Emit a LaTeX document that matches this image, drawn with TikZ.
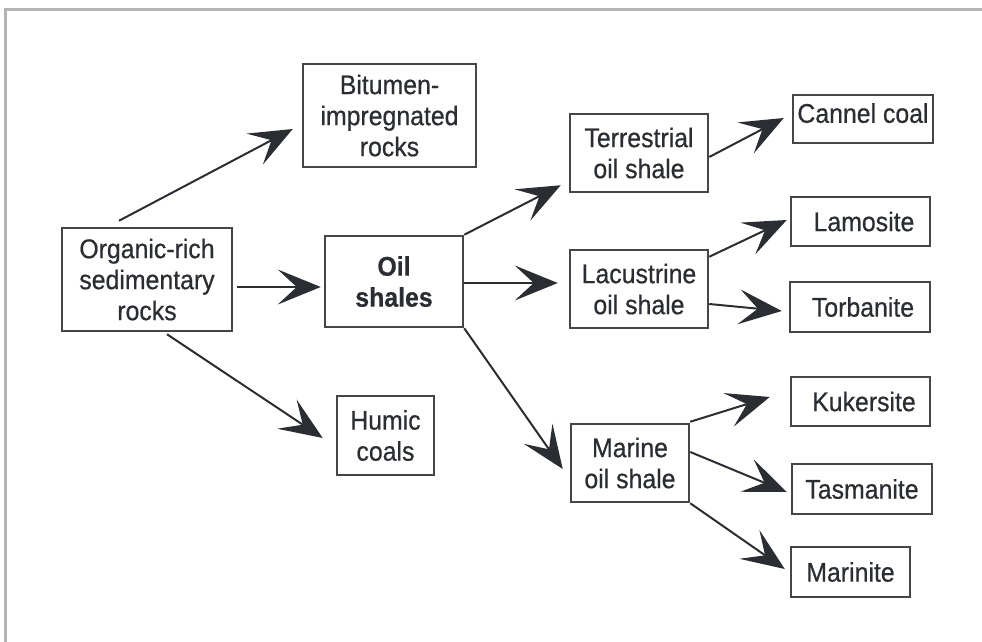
\documentclass[tikz,border=0pt]{standalone}
\usepackage{fontspec}
\setmainfont{Liberation Sans}[FakeStretch=0.92,FakeBold=0.6]
\usetikzlibrary{arrows.meta,calc}
\definecolor{ink}{HTML}{2A2D32}
\definecolor{boxline}{HTML}{464646}
\definecolor{framegray}{HTML}{B4B4B4}
\begin{document}
\begin{tikzpicture}[x=1pt,y=-1pt,
  box/.style={draw=boxline,line width=2.5pt,align=center,inner sep=0pt,text=ink,
              font=\fontsize{27pt}{31pt}\selectfont},
  arr/.style={draw=ink,line width=2pt,-{Stealth[length=43pt,width=35pt,inset=19pt]}}]
\useasboundingbox (0,0) rectangle (982,642);
\draw[framegray,line width=3pt] (5,642) -- (5,9.5) -- (982,9.5);

\node[box,minimum width=170pt,minimum height=103pt] (org) at (147,279.5) {Organic-rich\\sedimentary\\rocks};
\node[box,minimum width=173pt,minimum height=103pt] (bit) at (389.5,115.5) {Bitumen-\\impregnated\\rocks};
\node[box,minimum width=138pt,minimum height=91pt,font=\fontsize{27pt}{31pt}\selectfont\bfseries] (oil) at (394,281.5) {Oil\\shales};
\node[box,minimum width=97pt,minimum height=79pt] (hum) at (385.5,435.5) {Humic\\coals};
\node[box,minimum width=138pt,minimum height=78pt] (ter) at (639,153) {Terrestrial\\oil shale};
\node[box,minimum width=138pt,minimum height=78pt] (lac) at (639,289) {Lacustrine\\oil shale};
\node[box,minimum width=118pt,minimum height=78pt] (mar) at (630,463) {Marine\\oil shale};
\node[box,minimum width=140pt,minimum height=48pt,text depth=12pt] (can) at (863,119) {Cannel coal};
\node[box,minimum width=139pt,minimum height=49pt] (lam) at (860.5,221.5) {\hspace*{7pt}Lamosite};
\node[box,minimum width=140pt,minimum height=50pt] (tor) at (860,307) {\hspace*{6pt}Torbanite};
\node[box,minimum width=139pt,minimum height=49pt] (kuk) at (860.5,401.5) {\hspace*{7pt}Kukersite};
\node[box,minimum width=140pt,minimum height=50pt] (tas) at (862,489) {Tasmanite};
\node[box,minimum width=119pt,minimum height=50pt] (mrn) at (850.5,572) {Marinite};

\draw[arr] ($(org.north)+(-28,-6)$) -- ($(bit.west)+(-9,13.5)$);
\draw[arr] ($(org.east)+(4,7.5)$) -- ($(oil.west)+(-3,5.5)$);
\draw[arr] ($(org.south)+(20,2)$) -- ($(hum.west)+(-13,2.5)$);
\draw[arr] (oil.north east) -- ($(ter.south west)+(-8,-8)$);
\draw[arr] ($(oil.east)+(0,1.5)$) -- ($(lac.west)+(-11,-6)$);
\draw[arr] (oil.south east) -- ($(mar.west)+(-7,6)$);
\draw[arr] ($(ter.east)+(0,4)$) -- ($(can.west)+(-8,-1)$);
\draw[arr] ($(lac.north east)+(0,8)$) -- ($(lam.west)+(-3,-1.5)$);
\draw[arr] ($(lac.east)+(0,15)$) -- ($(tor.west)+(-7,4)$);
\draw[arr] ($(mar.north east)+(0,-1)$) -- ($(kuk.west)+(-20,-4.5)$);
\draw[arr] ($(mar.east)+(0,-11)$) -- ($(tas.west)+(-4,3)$);
\draw[arr] (mar.south east) -- ($(mrn.west)+(-5,-3)$);
\end{tikzpicture}
\end{document}
